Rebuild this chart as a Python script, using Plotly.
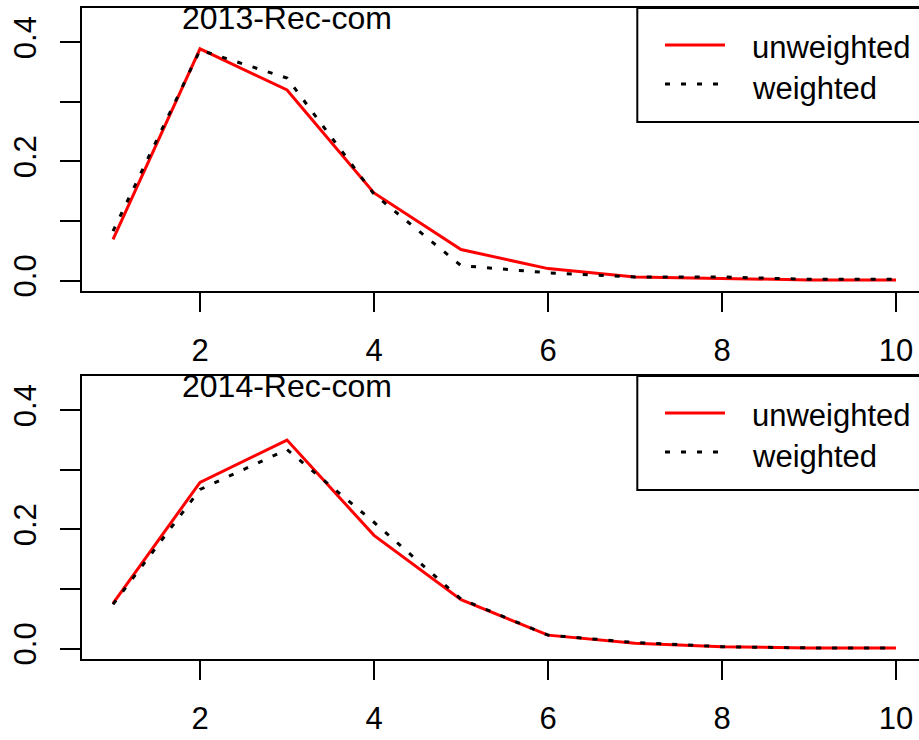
import plotly.graph_objects as go

# Distribution of values 1..10, unweighted vs weighted, for two survey years
x_vals = [1, 2, 3, 4, 5, 6, 7, 8, 9, 10]

unweighted_2013 = [0.069, 0.389, 0.320, 0.147, 0.052, 0.020, 0.006, 0.003, 0.001, 0.001]
weighted_2013 = [0.083, 0.387, 0.340, 0.145, 0.025, 0.013, 0.006, 0.006, 0.002, 0.002]

unweighted_2014 = [0.076, 0.279, 0.350, 0.190, 0.082, 0.0225, 0.009, 0.003, 0.001, 0.001]
weighted_2014 = [0.074, 0.267, 0.334, 0.212, 0.083, 0.0225, 0.010, 0.003, 0.001, 0.001]

panel_titles = ["2013-Rec-com", "2014-Rec-com"]
legend_labels = ["unweighted", "weighted"]

x_ticks = [2, 4, 6, 8, 10]
y_ticks = [0.0, 0.1, 0.2, 0.3, 0.4]
y_ticktext = ["0.0", "", "0.2", "", "0.4"]

W, H = 919, 740
FONT = "Liberation Sans, Arial, sans-serif"
FS = 31
DOT = "5px,11px"


def px(xp):
    return xp / W


def py(yp):
    return 1 - yp / H


fig = go.Figure()

panels = [
    (unweighted_2013, weighted_2013, "x", "y"),
    (unweighted_2014, weighted_2014, "x2", "y2"),
]
for unw, wtd, xa, ya in panels:
    fig.add_trace(go.Scatter(x=x_vals, y=unw, mode="lines", xaxis=xa, yaxis=ya,
                             line=dict(color="#ff0000", width=3), showlegend=False))
    fig.add_trace(go.Scatter(x=x_vals, y=wtd, mode="lines", xaxis=xa, yaxis=ya,
                             line=dict(color="#000000", width=3, dash=DOT), showlegend=False))

xr = [0.64, 10.264]
yr = [-0.0176, 0.4576]
x_dom = [px(81.7), 1.0]
top_dom = [py(291), py(8)]
bot_dom = [py(659), py(376)]

xaxis_common = dict(
    range=xr, domain=x_dom, tickvals=x_ticks, ticks="outside", ticklen=19,
    tickwidth=2, tickcolor="#000", showline=True, linewidth=2, linecolor="#000",
    mirror=True, showgrid=False, zeroline=False, ticklabelstandoff=12,
    automargin=False, fixedrange=True,
    tickfont=dict(family=FONT, size=FS, color="#000"),
)
yaxis_common = dict(
    range=yr, tickvals=y_ticks, ticktext=y_ticktext, tickangle=-90,
    ticks="outside", ticklen=20, tickwidth=2, tickcolor="#000", showline=True,
    linewidth=2, linecolor="#000", showgrid=False, zeroline=False,
    ticklabelstandoff=11, automargin=False, fixedrange=True,
    tickfont=dict(family=FONT, size=FS, color="#000"),
)

fig.update_layout(
    width=W, height=H, autosize=False,
    margin=dict(l=0, r=0, t=0, b=0, pad=0),
    paper_bgcolor="white", plot_bgcolor="white",
    xaxis=dict(anchor="y", **xaxis_common),
    yaxis=dict(anchor="x", domain=top_dom, **yaxis_common),
    xaxis2=dict(anchor="y2", **xaxis_common),
    yaxis2=dict(anchor="x2", domain=bot_dom, **yaxis_common),
)

annotations = []
shapes = []
for i, (title, ya, xa) in enumerate([(panel_titles[0], "y", "x"), (panel_titles[1], "y2", "x2")]):
    annotations.append(dict(x=3, y=0.44, xref=xa, yref=ya, text=title, showarrow=False,
                            xanchor="center", yanchor="middle",
                            font=dict(family=FONT, size=32, color="#000")))
    off = 0 if i == 0 else 368
    # legend frame
    shapes.append(dict(type="rect", xref="paper", yref="paper",
                       x0=px(637.3), x1=px(940), y0=py(8 + off), y1=py(122 + off),
                       line=dict(color="#000", width=2), fillcolor="white", layer="above"))
    shapes.append(dict(type="line", xref="paper", yref="paper",
                       x0=px(665), x1=px(725), y0=py(45 + off), y1=py(45 + off),
                       line=dict(color="#ff0000", width=3)))
    shapes.append(dict(type="line", xref="paper", yref="paper",
                       x0=px(665), x1=px(728), y0=py(84 + off), y1=py(84 + off),
                       line=dict(color="#000", width=3, dash=DOT)))
    for lab, yy in zip(legend_labels, [47, 88]):
        annotations.append(dict(x=px(750), y=py(yy + off), xref="paper", yref="paper",
                                text=lab, showarrow=False, xanchor="left", yanchor="middle",
                                font=dict(family=FONT, size=FS, color="#000")))

fig.update_layout(annotations=annotations, shapes=shapes)

fig.write_html("out.html")
